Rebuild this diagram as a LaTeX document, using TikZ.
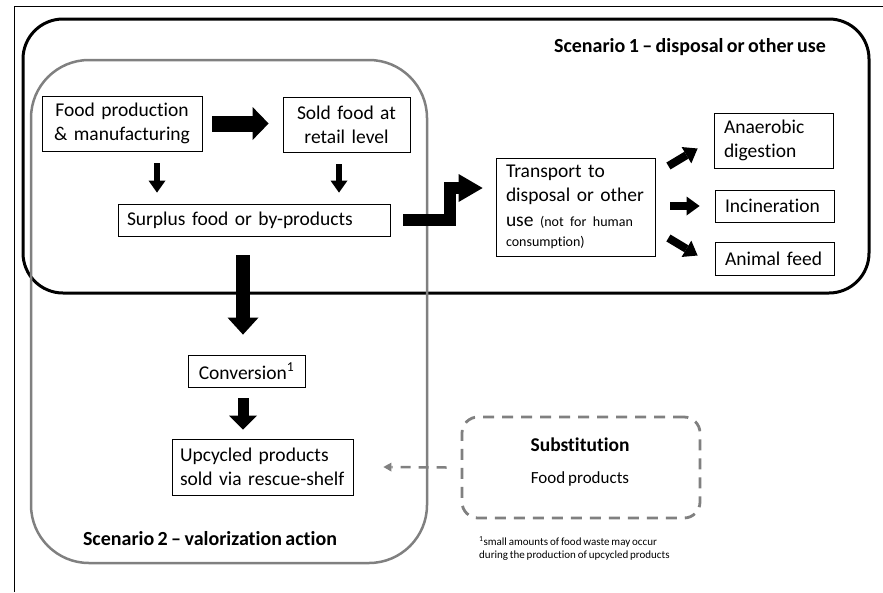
\documentclass[tikz,border=0pt]{standalone}
\usepackage{fontspec}
\setmainfont{Carlito}[Ligatures=NoCommon, WordSpace={0.75,0,0}]
\usetikzlibrary{arrows.meta}

\definecolor{scengray}{RGB}{128,128,128}
\newcommand{\notefont}{\fontsize{14}{17}\selectfont}

\tikzset{
  stage/.style={shape=rectangle, draw=black, line width=0.8pt, inner xsep=9pt, inner ysep=0pt,
    font=\fontsize{19.5}{24}\selectfont},
  label/.style={font=\fontsize{20}{24}\selectfont\bfseries},
  fatarrow/.style={line width=16pt, -{Triangle[length=16pt,width=33pt,line width=0pt]}},
  downarrow/.style={line width=14pt, -{Triangle[length=17pt,width=31pt,line width=0pt]}},
  midarrow/.style={line width=11pt, -{Triangle[length=14pt,width=28pt,line width=0pt]}},
  smallarrow/.style={line width=6pt, -{Triangle[length=12pt,width=17pt,line width=0pt]}},
  sidearrow/.style={line width=8pt, -{Triangle[length=13pt,width=19pt,line width=0pt]}},
  steparrow/.style={line width=12pt, line join=miter, -{Triangle[length=24pt,width=28pt,line width=0pt]}},
  dasharrow/.style={draw=scengray, line width=2.5pt, dash pattern=on 10pt off 8pt,
    -{Triangle[length=8pt,width=9pt,line width=0pt]}}
}

\begin{document}
\begin{tikzpicture}[x=1pt,y=-1pt]
      \useasboundingbox (0,0) rectangle (883,592);
      \draw [line width=1pt] (14,592) -- (14,6) -- (883,6);
      % scenario frames
      \draw [line width=3pt, rounded corners=40pt] (23,19) rectangle (869,293);
      \draw [draw=scengray, line width=2.5pt, rounded corners=58pt] (31,60) rectangle (427,563);
      \node (scenone) at (690,47) [label] {Scenario 1 -- disposal or other use};
      \node (scentwo) at (210,539) [label] {Scenario 2 -- valorization action};
      % chain
      \node (food) at (122,123.5) [stage, text width=142pt, minimum height=55pt, align=center] {Food production\\\& manufacturing};
      \node (sold) at (346.5,124.5) [stage, text width=109pt, minimum height=55pt, align=center] {Sold food at\\retail level};
      \node (surplus) at (254,220) [stage, text width=254pt, minimum height=32pt, align=left] {Surplus food or by-products};
      \node (conv) at (246.5,371) [stage, text width=99pt, minimum height=32pt, align=center] {Conversion\textsuperscript{1}};
      \node (upcycled) at (262.5,467) [stage, inner xsep=8pt, text width=165pt, minimum height=56pt, align=left] {Upcycled products\\sold via rescue-shelf};
      \node (transport) at (575.5,207) [stage, inner xsep=10pt, text width=139pt, minimum height=98pt, align=left]
        {Transport to\\disposal or other\\[1pt]use {\notefont(not for human}\\[-4pt]{\notefont consumption)}};
      \node (anaerobic) at (773.5,140.5) [stage, inner xsep=10pt, text width=99pt, minimum height=55pt, align=left] {Anaerobic\\digestion};
      \node (incin) at (774.5,206) [stage, inner xsep=10pt, text width=99pt, minimum height=32pt, align=left] {Incineration};
      \node (feed) at (774.5,258.5) [stage, inner xsep=10pt, text width=99pt, minimum height=33pt, align=left] {Animal feed};
      % substitution
      \node (subst) at (581,467.5) [shape=rectangle, draw=scengray, line width=2.8pt, dash pattern=on 11pt off 8pt,
        rounded corners=16pt, minimum width=238pt, minimum height=101pt] {};
      \node (substhead) at (580,445) [font=\fontsize{19.5}{24}\selectfont\bfseries] {Substitution};
      \node (substtext) at (580,479) [font=\fontsize{17}{21}\selectfont] {Food products};
      \node (footnote) at (479,548.5) [anchor=west, inner sep=0pt, align=left, font=\fontsize{11}{13.5}\selectfont]
        {\textsuperscript{1}small amounts of food waste may occur\\during the production of upcycled products};
      % arrows
      \draw [fatarrow] ([xshift=10pt]food.east) -- ([xshift=-14pt]food.east -| sold.west);
      \draw [smallarrow] ([xshift=35pt,yshift=-12pt]food.south) -- ([xshift=35pt,yshift=11pt]food.south |- surplus.north);
      \draw [smallarrow] ([xshift=-7.5pt,yshift=-12pt]sold.south) -- ([xshift=-7.5pt,yshift=11pt]sold.south |- surplus.north);
      \draw [downarrow] ([xshift=-11pt,yshift=-19pt]surplus.south) -- ([xshift=-11pt,yshift=20pt]surplus.south |- conv.north);
      \draw [midarrow] ([xshift=-3.5pt,yshift=-11pt]conv.south) -- ([xshift=-3.5pt,yshift=9pt]conv.south |- upcycled.north);
      \draw [steparrow] ([xshift=13pt]surplus.east) -- ++(47,0) |- ([xshift=-13pt,yshift=19pt]transport.west);
      \draw [sidearrow] ([xshift=13pt,yshift=41pt]transport.east) -- ([xshift=-16pt,yshift=-8pt]anaerobic.west);
      \draw [sidearrow] ([xshift=15pt,yshift=1pt]transport.east) -- ([xshift=-15pt]incin.west);
      \draw [sidearrow] ([xshift=13pt,yshift=-31pt]transport.east) -- ([xshift=-17pt,yshift=3pt]feed.west);
      \draw [dasharrow] ([xshift=-14pt]subst.west) -- ([xshift=30pt]upcycled.east);
\end{tikzpicture}
\end{document}
